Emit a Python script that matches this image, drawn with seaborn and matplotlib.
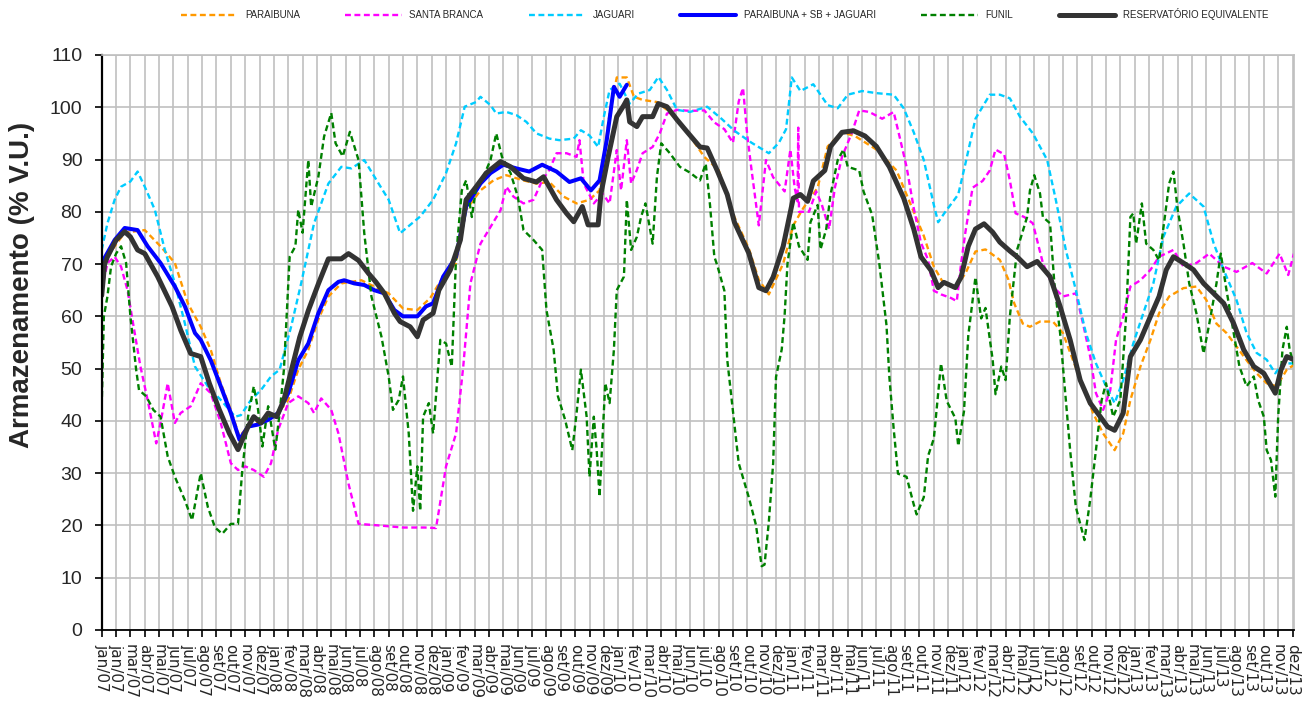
import matplotlib
matplotlib.use("Agg")
import matplotlib.pyplot as plt
import seaborn as sns
import pandas as pd

# eixo x em meses contados a partir de jan/07 (0 = jan/07 ... 83 = dez/13)
meses = ['jan', 'fev', 'mar', 'abr', 'mai', 'jun', 'jul', 'ago', 'set', 'out', 'nov', 'dez']
tick_labels = [f'{m}/{a:02d}' for a in range(7, 14) for m in meses]
tick_labels[1] = 'jan/07'  # o grafico original repete jan/07 e nao mostra fev/07

# Armazenamento (% V.U.)
paraibuna_t = [0, 1.6, 3, 4.1, 5.1, 6, 6.9, 7.6, 8.3, 9,
               9.6, 10.2, 11.6, 12.3, 13, 13.7, 14.4, 15.1, 15.8, 16.7,
               18.1, 19, 20, 21, 22, 22.9, 23.8, 24.7, 25.4, 26.4,
               27.3, 28.2, 29.4, 30.3, 31.2, 32.2, 33.1, 34, 34.7, 35.4,
               35.9, 36.6, 37.1, 37.7, 38.7, 39.4, 40.3, 41, 42, 43,
               44.1, 45.1, 45.8, 46.5, 47.5, 48.2, 48.9, 49.9, 50.6, 51.6,
               52.5, 54, 55.4, 56.4, 57.3, 58, 58.7, 59.5, 60.2, 60.9,
               61.6, 62.6, 63.2, 63.6, 64.2, 64.7, 65.4, 66.3, 67, 67.7,
               68.4, 69.1, 69.8, 70.6, 71.2, 71.7, 72.4, 73.1, 73.7, 74.4,
               75.4, 76.3, 77, 77.7, 78.4, 79.1, 79.8, 80.5, 81.2, 81.9,
               82.6, 83.1]
paraibuna_v = [70, 76, 76.5, 73.4, 70.2, 62.5, 58, 53.6, 47.2, 42.1,
               37, 39, 40.8, 41.5, 44, 49.8, 53.6, 59.4, 63.8, 66.3,
               66.9, 65.7, 64.4, 61.5, 61.2, 63.5, 67.6, 70.2, 80.4, 84.1,
               86, 87, 86, 85.4, 85.7, 82.9, 81.6, 82.3, 84.1, 98.8,
               105.7, 105.7, 102, 101.4, 101, 99.5, 96.9, 94.5, 90.5, 88,
               79, 73, 67, 64.2, 70.1, 77.4, 80.7, 84.6, 92.5, 95.2,
               94.5, 91.9, 87.9, 81.3, 75.4, 69.5, 66.2, 65.5, 68.2, 72.4,
               72.8, 70.8, 67, 62.5, 58.6, 58, 59, 59, 56.8, 51.6,
               46.6, 41.5, 37.6, 34.4, 37.6, 44, 50.4, 55.5, 60.6, 63.8,
               65.4, 65.7, 63.1, 58.6, 56.8, 54.2, 51.6, 49.1, 47.2, 46.6,
               49.8, 50.7]

santa_branca_t = [0, 0.4, 0.9, 1.35, 1.8, 2.3, 2.7, 3.2, 3.8, 4.1,
                  4.6, 5.1, 5.5, 6.2, 6.9, 7.6, 8.3, 9, 9.5, 10,
                  10.6, 11.3, 11.8, 12.3, 13, 13.7, 14.4, 14.8, 15.3, 16,
                  16.5, 17.2, 17.9, 19.3, 21, 22.5, 23.3, 23.5, 24, 24.7,
                  25.2, 25.7, 26.4, 27.1, 27.8, 28.2, 28.7, 29.4, 30.1, 30.7,
                  31.2, 31.7, 32.4, 33.1, 33.3, 33.6, 34.3, 34.9, 35.4, 35.9,
                  36.2, 36.6, 36.9, 37.3, 37.7, 38.4, 38.9, 39.4, 40.1, 41,
                  42, 42.7, 43.4, 44, 44.4, 44.7, 45, 45.3, 45.8, 46.3,
                  46.8, 47.6, 48, 48.3, 48.5, 48.55, 48.6, 49.3, 49.8, 50.2,
                  50.7, 51.1, 51.6, 52.3, 52.8, 53.5, 54.4, 55.2, 55.6, 56.1,
                  56.6, 57.1, 57.6, 58, 58.5, 59.2, 59.6, 59.9, 60.2, 60.7,
                  61.4, 61.9, 62.3, 62.9, 63.3, 63.7, 64.3, 64.9, 65.6, 66.3,
                  67, 67.9, 68.4, 68.9, 69.3, 69.8, 70.3, 70.7, 71.2, 71.7,
                  72.4, 73.1, 73.7, 74.7, 75.4, 76.3, 77.2, 78.2, 79.1, 80.2,
                  81.2, 82.1, 82.7, 83.1]
santa_branca_v = [65, 70.2, 71.4, 69.5, 65, 56.8, 50.4, 44, 35.7, 39.6,
                  47.2, 39.6, 41.5, 42.8, 47.2, 45.3, 39.6, 31.9, 30.6, 31.3,
                  30.6, 29.3, 31.9, 38.3, 43.4, 44.7, 43.4, 41.5, 44.3, 42.1,
                  37.6, 28, 20.3, 20, 19.6, 19.6, 19.5, 22.8, 31.3, 37.6,
                  50.4, 66.3, 73.9, 77.1, 80.3, 84.8, 82.9, 81.6, 82.3, 86,
                  88, 91.2, 91.2, 90.5, 93.7, 85.4, 81.6, 83.5, 81.6, 91.8,
                  84.1, 93.7, 85.4, 88, 91.2, 92.4, 95, 98.8, 99.5, 99.3,
                  99.4, 97.1, 95.8, 93.2, 101.1, 103.7, 94.5, 87.9, 77.4, 89.9,
                  86.6, 83.9, 91.9, 84.6, 82, 96.1, 80, 80, 83.9, 81.3,
                  76.7, 84.6, 90.5, 95.2, 99.4, 99.1, 97.8, 99.1, 94.5, 88.6,
                  80.7, 74.1, 70.8, 64.9, 64.2, 63.5, 62.9, 70.1, 76.1, 84.6,
                  85.9, 87.9, 91.9, 91, 86, 79.7, 79, 77.8, 70.2, 65.7,
                  63.8, 64.4, 58.6, 52.3, 45.3, 42.1, 45.9, 55.5, 60, 65.7,
                  66.9, 68.9, 71.4, 72.7, 69.5, 70.2, 72, 69.5, 68.5, 70.2,
                  68.2, 72, 67.9, 72]

jaguari_t = [0, 0.4, 0.9, 1.35, 2, 2.5, 3, 3.7, 4.4, 5.1,
             5.8, 6.5, 7.4, 8.3, 9.3, 9.7, 10.4, 11.1, 11.8, 12.4,
             13.2, 13.9, 14.8, 15.8, 16.7, 17.4, 18.3, 19.3, 20, 20.8,
             21.5, 22.2, 23.1, 24, 24.7, 25.3, 26.1, 26.4, 27.1, 27.5,
             28.2, 28.9, 29.6, 30.3, 31.2, 31.9, 32.9, 33.4, 34, 34.6,
             35, 35.4, 36.1, 36.8, 37.4, 38.2, 38.8, 39.4, 40.1, 41,
             42.2, 43.2, 44.1, 45.3, 46.5, 47.2, 47.7, 48.1, 48.7, 49.6,
             50.6, 51.3, 52, 53, 54, 55.2, 55.9, 56.6, 57.3, 58,
             58.3, 58.8, 59.7, 60.2, 60.9, 61.9, 62.6, 63.3, 64, 64.9,
             65.9, 66.5, 67.2, 67.9, 68.6, 69.3, 70, 70.6, 71.2, 71.9,
             72.6, 73.3, 74, 74.9, 75.8, 76.8, 77.5, 78.2, 79.1, 79.8,
             80.5, 81.2, 81.8, 82.3, 83.1]
jaguari_v = [72.7, 77.8, 82.3, 84.8, 85.8, 87.7, 84.8, 80.4, 72.7, 66.3,
             58.6, 50.4, 46.6, 44, 40.8, 41.1, 44, 45.9, 48.5, 49.8,
             58, 66.3, 77.8, 85.4, 88.6, 88.3, 89.9, 85.4, 82.3, 75.9,
             77.5, 79.1, 82.3, 87.4, 93.1, 100.1, 101, 102, 100.4, 98.8,
             99.1, 98.5, 97.2, 95, 94, 93.7, 94, 95.6, 94.6, 92.4,
             98.2, 103.3, 104.5, 100.7, 102.6, 103.3, 105.8, 103.3, 99.5, 99.1,
             100.1, 97.8, 95.5, 93.2, 91.2, 93.2, 95.8, 105.7, 103.1, 104.4,
             100.4, 99.8, 102.4, 103.1, 102.7, 102.4, 99.8, 95.2, 89.9, 81.3,
             78, 80, 83.3, 89.2, 97.8, 102.4, 102.4, 101.7, 98.2, 95,
             89.9, 82.3, 72.7, 65, 56.8, 51, 46.6, 43.4, 47.8, 54.8,
             60.6, 66.3, 75.2, 81, 83.5, 81, 74, 68.9, 63.1, 56.8,
             53, 51.7, 49.1, 51, 51]

psbj_t = [0, 0.9, 1.6, 2.5, 3.2, 4.1, 5.1, 5.8, 6.5, 6.9,
          7.6, 8.3, 9, 9.6, 10.2, 10.9, 11.6, 12.3, 13, 13.7,
          14.4, 15.1, 15.8, 16.5, 16.9, 17.6, 18.3, 19, 19.7, 20.4,
          21, 22, 22.6, 23.1, 23.8, 24.7, 25.4, 26.4, 27.1, 28,
          28.9, 29.8, 30.7, 31.7, 32.6, 33.4, 34.1, 34.7, 35.2, 35.7,
          36.1, 36.6]
psbj_v = [70.2, 74.6, 76.9, 76.5, 73.4, 70.2, 65.7, 61.9, 56.8, 55.5,
          51.6, 46.6, 41.5, 36.4, 38.9, 39.3, 40.2, 41.5, 45.3, 51.6,
          54.8, 60.6, 65, 66.6, 66.9, 66.3, 66, 65, 64.4, 61.2,
          60, 60, 61.9, 62.5, 67.6, 71.4, 81, 85.4, 87.4, 89,
          88.3, 87.7, 89, 87.7, 85.7, 86.4, 84.1, 86, 93.7, 103.9,
          102, 104.3]

funil_t = [0, 0.15, 0.4, 0.65, 1, 1.35, 1.7, 2, 2.4, 2.6,
           3.1, 3.6, 4.1, 4.6, 5.1, 5.8, 6.3, 6.9, 7.4, 7.9,
           8.4, 9, 9.5, 9.8, 10.2, 10.6, 10.9, 11.2, 11.6, 12.1,
           12.4, 12.7, 13.1, 13.5, 13.7, 14, 14.4, 14.6, 15.1, 15.5,
           16, 16.3, 16.8, 17.3, 17.9, 18.3, 18.8, 19.5, 20, 20.3,
           20.7, 21, 21.4, 21.7, 22, 22.2, 22.4, 22.8, 23.1, 23.6,
           24, 24.4, 24.7, 25.1, 25.4, 25.8, 26.1, 26.6, 27.1, 27.5,
           27.9, 28.5, 29, 29.4, 30.1, 30.7, 31, 31.5, 31.8, 32.3,
           32.8, 33.1, 33.4, 33.8, 34, 34.3, 34.5, 34.7, 35.1, 35.4,
           35.7, 35.9, 36.4, 36.6, 36.9, 37.3, 37.6, 37.9, 38.4, 38.7,
           39, 39.6, 40.3, 41, 41.7, 42.1, 42.4, 42.7, 42.9, 43.4,
           43.6, 44, 44.4, 45.1, 45.6, 46, 46.2, 46.5, 46.8, 47,
           47.4, 47.6, 47.8, 48.2, 48.6, 49.2, 49.4, 49.9, 50.1, 50.5,
           50.8, 51.3, 51.7, 52, 52.8, 53.1, 53.7, 54.2, 54.7, 54.9,
           55.2, 55.5, 56.1, 56.6, 56.8, 57.3, 57.6, 58, 58.5, 58.9,
           59.5, 59.7, 60.1, 60.4, 60.9, 61.3, 61.6, 62.1, 62.3, 62.7,
           63, 63.3, 63.8, 64.5, 64.7, 65, 65.4, 65.6, 66.1, 66.4,
           66.8, 67.2, 67.5, 67.9, 68.5, 68.9, 69.3, 69.7, 70, 70.5,
           71, 71.4, 71.7, 71.9, 72.1, 72.5, 72.8, 73.3, 73.7, 74.1,
           74.4, 74.7, 75, 75.4, 75.8, 76.3, 76.8, 77.2, 77.7, 78,
           78.4, 78.9, 79.3, 79.8, 80.3, 80.6, 81, 81.2, 81.5, 81.8,
           82, 82.3, 82.6, 82.8, 83.1]
funil_v = [42.8, 60, 63.8, 69.5, 72, 73.4, 70.2, 60, 49.8, 45.9,
           44.7, 42.1, 40.8, 33.2, 29.3, 24.8, 21, 30, 23.5, 19.6,
           18.4, 20.3, 20.3, 30.6, 40.8, 46.6, 42.1, 35.1, 42.8, 34.5,
           41.5, 49.8, 71.4, 73.4, 80.4, 76, 89.9, 81, 86.7, 94.4,
           98.9, 93.1, 90.6, 95.3, 89.9, 75.9, 63.8, 56.1, 48.5, 42.1,
           44, 48.5, 37.6, 22.8, 31.3, 22.8, 40.8, 43.4, 37.6, 55.5,
           54.8, 50.4, 71.4, 84.1, 86, 79, 84.8, 86.7, 89.9, 95,
           90.5, 87.4, 82.9, 76.5, 74.6, 72.7, 61.2, 53.6, 44.7, 40.2,
           34.4, 41.5, 49.8, 40.8, 29.3, 40.8, 34.4, 25.5, 47.2, 43.4,
           53.6, 65, 67.6, 82.3, 72.7, 75.2, 79.1, 81.6, 73.9, 86.7,
           93.1, 91.2, 88.6, 87.5, 86, 89.2, 81.3, 71.4, 69.8, 64.9,
           51.7, 41.8, 31.9, 25.4, 20.1, 12.2, 12.5, 20.7, 31.9, 48.4,
           53.7, 60.2, 70.1, 78, 73.4, 70.8, 78, 81.3, 72.8, 76.7,
           83.3, 89.9, 91.9, 88.6, 87.9, 83.9, 79.4, 70.1, 58.3, 48.4,
           38.5, 29.9, 29.3, 24, 22.1, 25.4, 33.3, 36.6, 51, 43.8,
           40.5, 35.2, 41.8, 56.3, 67.5, 59.6, 61.6, 51.7, 45.1, 50.4,
           47.8, 60, 72.7, 79, 84.1, 87, 83.5, 79, 77.8, 66.3,
           56.8, 44, 34.4, 23.5, 17.2, 24.9, 34.4, 44, 47.2, 40.8,
           44, 60, 79, 79.7, 73.9, 81.6, 73.9, 72.7, 70.7, 79,
           85.4, 87.7, 80.3, 73.9, 66.3, 60.6, 52.9, 58.6, 66.3, 72,
           65, 56.8, 50.4, 46.6, 48.5, 44, 40.8, 34.4, 32.5, 25.5,
           40.8, 53.6, 58, 53.6, 50.7]

equivalente_t = [0, 0.2, 0.4, 1, 1.6, 2, 2.5, 3, 3.9, 4.9,
                 5.5, 6.2, 6.9, 7.5, 8.2, 8.9, 9.5, 10.2, 10.6, 11.1,
                 11.6, 12.2, 12.7, 13.4, 13.8, 14.4, 15.1, 15.8, 16.7, 17.2,
                 17.9, 18.6, 19.1, 19.7, 20.4, 20.8, 21.5, 22, 22.4, 23.1,
                 23.5, 24.3, 25, 25.4, 26.1, 26.8, 27.8, 28.5, 29.4, 30.3,
                 30.8, 31.7, 32.4, 32.9, 33.5, 33.9, 34.6, 34.8, 35.3, 35.9,
                 36.4, 36.6, 36.8, 37.3, 37.7, 38.4, 38.8, 39.4, 40.1, 40.8,
                 41.7, 42.2, 42.9, 43.6, 44.1, 45.1, 45.8, 46.3, 46.8, 47.5,
                 48.2, 48.7, 49.2, 49.6, 50.4, 50.8, 51.6, 52.4, 53.2, 54,
                 54.9, 55.9, 56.6, 57.1, 57.8, 58.3, 58.7, 59.5, 59.9, 60.4,
                 60.9, 61.5, 62.1, 62.6, 63.3, 63.8, 64.5, 65.2, 66.1, 66.8,
                 67.5, 68.2, 68.9, 69.6, 70.1, 70.6, 71.2, 71.7, 72.4, 73.1,
                 73.7, 74.2, 74.7, 75.4, 76.1, 76.8, 77.5, 78.2, 78.9, 79.6,
                 80.3, 81, 81.4, 81.8, 82.2, 82.6, 83.1]
equivalente_v = [64, 70, 71.4, 74.6, 76.2, 75.2, 72.7, 72, 67.6, 61.9,
                 57.4, 52.9, 52.3, 47.2, 42.1, 37.6, 34.5, 38.9, 40.8, 39.6,
                 41.5, 40.8, 44, 51.6, 56, 61.1, 66.2, 71, 71, 72,
                 70.7, 68.2, 66.6, 64.4, 60.6, 59, 58, 56.1, 59.3, 60.6,
                 65, 68.9, 74.6, 82.3, 84.8, 87.4, 89.6, 88.6, 86.4, 85.7,
                 86.7, 82.3, 79.7, 78.1, 81, 77.5, 77.5, 83.5, 90.5, 98.2,
                 100.4, 101.4, 97.2, 96.3, 98.2, 98.2, 100.7, 100.1, 97.6, 95.3,
                 92.4, 92.2, 87.9, 83.3, 78, 72.1, 65.5, 64.9, 67.5, 73.4,
                 82.6, 83.3, 82, 85.9, 87.9, 92.5, 95.2, 95.5, 94.5, 92.5,
                 88.6, 82.6, 76.7, 71.4, 68.8, 65.5, 66.5, 65.5, 67.5, 73.4,
                 76.7, 77.7, 76.1, 74.2, 72.5, 71.4, 69.5, 70.5, 67.6, 61.9,
                 55.5, 47.8, 43.4, 40.8, 38.9, 38.2, 41.5, 52.3, 55.5, 60,
                 63.8, 68.9, 71.4, 70.2, 68.9, 66.3, 64.4, 62.5, 58.6, 53.6,
                 50.4, 49.1, 47.2, 45.3, 49.8, 52.3, 51.7]

sns.set_style("white")
plt.rcParams['font.family'] = ['Liberation Sans', 'DejaVu Sans']

fig = plt.figure(figsize=(13.09, 7.12), dpi=100)
ax = fig.add_axes([0.0777, 0.1152, 0.9108, 0.8076])

tracejado = (0, (2.5, 1.5))
series = [
    ('PARAIBUNA', paraibuna_t, paraibuna_v, '#FF9900', 1.7, tracejado),
    ('SANTA BRANCA', santa_branca_t, santa_branca_v, '#FF00FF', 1.7, tracejado),
    ('JAGUARI', jaguari_t, jaguari_v, '#00CCFF', 1.7, tracejado),
    ('PARAIBUNA + SB + JAGUARI', psbj_t, psbj_v, '#0000FF', 2.9, '-'),
    ('FUNIL', funil_t, funil_v, '#008000', 1.7, tracejado),
    ('RESERVATÓRIO EQUIVALENTE', equivalente_t, equivalente_v, '#333333', 3.6, '-'),
]

for nome, t, v, cor, lw, ls in series:
    df = pd.DataFrame({'mes': t, 'arm': v})
    sns.lineplot(data=df, x='mes', y='arm', ax=ax, color=cor, lw=lw,
                 linestyle=ls, label=nome, estimator=None, errorbar=None)

ax.set_xlim(0, 83.1)
ax.set_ylim(0, 110)
ax.set_xlabel('')
ax.set_ylabel('')

ax.set_xticks(range(len(tick_labels)))
ax.set_xticklabels(tick_labels, rotation=270, ha='center', va='top',
                   fontsize=11, family='DejaVu Sans')
ax.set_yticks(range(0, 111, 10))
ax.tick_params(axis='y', labelsize=14, length=5, width=1.2, pad=9,
               direction='out', left=True, color='black')
ax.tick_params(axis='x', length=5, width=1.2, pad=5,
               direction='out', bottom=True, color='black')

ax.grid(True, color='#C0C0C0', lw=1.2)
ax.set_axisbelow(True)
ax.spines['left'].set(color='black', lw=1.6)
ax.spines['bottom'].set(color='black', lw=1.3)
ax.spines['top'].set(color='#BFBFBF', lw=1.2)
ax.spines['right'].set(color='#BFBFBF', lw=1.2)

fig.text(0.0168, 0.5997, 'Armazenamento (% V.U.)', rotation=90,
         ha='center', va='center', fontsize=20, fontweight='bold')

handles, labels = ax.get_legend_handles_labels()
ax.legend(handles, labels, loc='center', bbox_to_anchor=(0.5535, 0.980),
          bbox_transform=fig.transFigure, ncol=6, frameon=False, fontsize=7,
          handlelength=5.8, handletextpad=0.8, columnspacing=4.65)

fig.savefig('out.png', dpi=100)
